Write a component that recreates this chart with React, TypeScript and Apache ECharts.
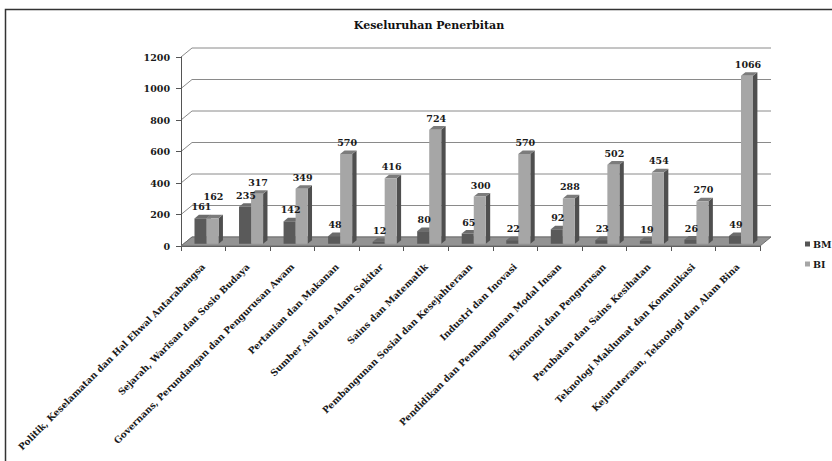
import React, { useEffect, useRef } from "react";
import * as echarts from "echarts";

// Publication counts per subject field, Malay (BM) and English (BI)
const categories = [
  "Politik, Keselamatan dan Hal Ehwal Antarabangsa",
  "Sejarah, Warisan dan Sosio Budaya",
  "Governans, Perundangan dan Pengurusan Awam",
  "Pertanian dan Makanan",
  "Sumber Asli dan Alam Sekitar",
  "Sains dan Matematik",
  "Pembangunan Sosial dan Kesejahteraan",
  "Industri dan Inovasi",
  "Pendidikan dan Pembangunan Modal Insan",
  "Ekonomi dan Pengurusan",
  "Perubatan dan Sains Kesihatan",
  "Teknologi Maklumat dan Komunikasi",
  "Kejuruteraan, Teknologi dan Alam Bina",
];
const bmValues = [161, 235, 142, 48, 12, 80, 65, 22, 92, 23, 19, 26, 49];
const biValues = [162, 317, 349, 570, 416, 724, 300, 570, 288, 502, 454, 270, 1066];
const yTicks = [0, 200, 400, 600, 800, 1000, 1200];
const seriesNames = ["BM", "BI"];

const FONT = '"DejaVu Serif", serif';
// oblique depth vector of the pseudo-3D box
const DEPTH: [number, number] = [11, -9];
const FRONT = 0.25;
const BACK = 0.65;
const BAR_RATIO = 0.27;

const palettes = [
  { front: "#5a5a5a", side: "#353535", top: "#6c6c6c" },
  { front: "#a6a6a6", side: "#4f4f4f", top: "#7c7c7c" },
];

function barGeom(api: any, idx: number, v: number, slot: number) {
  const base = api.coord([idx, 0]);
  const top = api.coord([idx, v]);
  const band = api.size([1, 0])[0];
  const w = band * BAR_RATIO;
  const x0 = base[0] + (slot === 0 ? -w : 0) + 0.5;
  return { x0, x1: x0 + w, w, yT: top[1], yB: base[1] };
}

function makeBarRenderer(slot: number) {
  const pal = palettes[slot];
  return (params: any, api: any) => {
    const idx = api.value(0);
    const v = api.value(1);
    const { x0, x1, w, yT, yB } = barGeom(api, idx, v, slot);
    const f = [DEPTH[0] * FRONT, DEPTH[1] * FRONT];
    const b = [DEPTH[0] * BACK, DEPTH[1] * BACK];
    return {
      type: "group",
      children: [
        {
          type: "polygon",
          shape: {
            points: [
              [x1 + f[0], yT + f[1]],
              [x1 + b[0], yT + b[1]],
              [x1 + b[0], yB + b[1]],
              [x1 + f[0], yB + f[1]],
            ],
          },
          style: { fill: pal.side },
        },
        {
          type: "polygon",
          shape: {
            points: [
              [x0 + f[0], yT + f[1]],
              [x1 + f[0], yT + f[1]],
              [x1 + b[0], yT + b[1]],
              [x0 + b[0], yT + b[1]],
            ],
          },
          style: { fill: pal.top },
        },
        {
          type: "rect",
          shape: { x: x0 + f[0], y: yT + f[1], width: w, height: yB - yT },
          style: { fill: pal.front },
        },
      ],
    };
  };
}

function renderLabels(params: any, api: any) {
  const idx = api.value(0);
  const vals = [api.value(1), api.value(2)];
  const f = [DEPTH[0] * FRONT, DEPTH[1] * FRONT];
  const ys: number[] = [];
  const children: any[] = [];
  vals.forEach((v: number, slot: number) => {
    const g = barGeom(api, idx, v, slot);
    let y = g.yT + f[1] - 11.5;
    if (slot === 1 && Math.abs(y - ys[0]) < 10) y = ys[0] - 10.5;
    ys.push(y);
    children.push({
      type: "text",
      x: (g.x0 + g.x1) / 2 + f[0] + 1,
      y,
      style: {
        text: String(v),
        fill: "#1a1a1a",
        fontFamily: FONT,
        fontWeight: "bold",
        fontSize: 9.5,
        align: "center",
        verticalAlign: "middle",
      },
    });
  });
  return { type: "group", children };
}

function renderWallLine(params: any, api: any) {
  const cs = params.coordSys;
  const y = api.coord([0, api.value(1)])[1];
  const x = cs.x;
  return {
    type: "polyline",
    shape: {
      points: [
        [x, y],
        [x + DEPTH[0], y + DEPTH[1]],
        [x + cs.width + DEPTH[0], y + DEPTH[1]],
      ],
    },
    style: { stroke: "#8a8a8a", lineWidth: 1, fill: "none" },
  };
}

function renderFloor(params: any, api: any) {
  const cs = params.coordSys;
  const y0 = api.coord([0, 0])[1];
  const x = cs.x;
  const W = cs.width;
  return {
    type: "polygon",
    shape: {
      points: [
        [x, y0],
        [x + W, y0],
        [x + W + DEPTH[0], y0 + DEPTH[1]],
        [x + DEPTH[0], y0 + DEPTH[1]],
      ],
    },
    style: { fill: "#939393", stroke: "#6e6e6e", lineWidth: 1 },
  };
}

export default function App() {
  const ref = useRef<HTMLDivElement>(null);

  useEffect(() => {
    if (!ref.current) return;
    const chart = echarts.init(ref.current, undefined, { renderer: "svg" });
    chart.setOption({
      animation: false,
      backgroundColor: "#ffffff",
      title: {
        text: "Keseluruhan Penerbitan",
        left: 424,
        top: 15,
        textAlign: "center",
        textStyle: { fontFamily: FONT, fontWeight: "bold", fontSize: 11, color: "#111" },
      },
      legend: {
        data: seriesNames,
        orient: "vertical",
        left: 800,
        top: 234,
        itemWidth: 5,
        itemHeight: 5,
        itemGap: 10,
        icon: "rect",
        textStyle: { fontFamily: FONT, fontWeight: "bold", fontSize: 9.5, color: "#1a1a1a", padding: [0, 0, 0, -2] },
      },
      graphic: [
        {
          type: "rect",
          shape: { x: 5.5, y: 9.5, width: 1000, height: 1000 },
          style: { fill: "none", stroke: "#333", lineWidth: 1.5 },
          silent: true,
        },
      ],
      grid: { left: 181, right: 72, top: 57, bottom: 215, containLabel: false },
      xAxis: {
        type: "category",
        data: categories,
        axisLine: { show: true, lineStyle: { color: "#555" } },
        axisTick: { show: true, length: 5, lineStyle: { color: "#555" } },
        splitLine: { show: false },
        axisLabel: {
          rotate: 45,
          interval: 0,
          margin: 19,
          fontFamily: FONT,
          fontWeight: "bold",
          fontSize: 9.2,
          color: "#1a1a1a",
        },
      },
      yAxis: {
        type: "value",
        min: 0,
        max: 1200,
        interval: 200,
        axisLine: { show: true, lineStyle: { color: "#555" } },
        axisTick: { show: true, length: 5, lineStyle: { color: "#555" } },
        splitLine: { show: false },
        axisLabel: {
          margin: 11,
          formatter: (v: number) => String(v),
          fontFamily: FONT,
          fontWeight: "bold",
          fontSize: 9.5,
          color: "#1a1a1a",
        },
      },
      series: [
        {
          type: "custom",
          silent: true,
          z: 0,
          renderItem: renderWallLine,
          encode: { x: 0, y: 1 },
          data: yTicks.map((v) => [0, v]),
        },
        {
          type: "custom",
          silent: true,
          z: 1,
          renderItem: renderFloor,
          encode: { x: 0, y: 1 },
          data: [[0, 0]],
        },
        {
          name: seriesNames[0],
          type: "custom",
          z: 2,
          itemStyle: { color: "#555555" },
          renderItem: makeBarRenderer(0),
          encode: { x: 0, y: 1 },
          data: bmValues.map((v, i) => [i, v]),
        },
        {
          name: seriesNames[1],
          type: "custom",
          z: 3,
          itemStyle: { color: "#a6a6a6" },
          renderItem: makeBarRenderer(1),
          encode: { x: 0, y: 1 },
          data: biValues.map((v, i) => [i, v]),
        },
        {
          type: "custom",
          silent: true,
          z: 4,
          renderItem: renderLabels,
          encode: { x: 0, y: [1, 2] },
          data: categories.map((_, i) => [i, bmValues[i], biValues[i]]),
        },
      ],
    });
    return () => chart.dispose();
  }, []);

  return (
    <div
      ref={ref}
      style={{ position: "fixed", left: 0, top: 0, width: 832, height: 461, background: "#fff" }}
    />
  );
}
